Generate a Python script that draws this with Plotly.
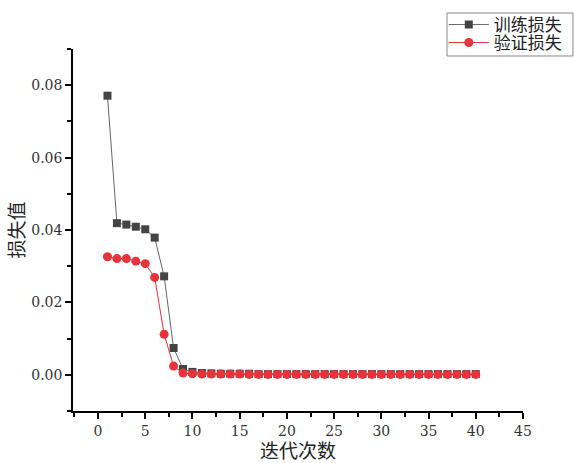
import plotly.graph_objects as go

epochs = list(range(1, 41))
train_loss = [0.0771, 0.0419, 0.0415, 0.0409, 0.0402, 0.0379, 0.0272, 0.0074, 0.0016, 0.0008,
              0.0005, 0.0004, 0.0003, 0.0003, 0.0003, 0.0003, 0.0002, 0.0002, 0.0002, 0.0002,
              0.0002, 0.0002, 0.0002, 0.0002, 0.0002, 0.0002, 0.0002, 0.0002, 0.0002, 0.0002,
              0.0002, 0.0002, 0.0002, 0.0002, 0.0002, 0.0002, 0.0002, 0.0002, 0.0002, 0.0002]
val_loss = [0.0326, 0.0321, 0.0321, 0.0314, 0.0307, 0.0269, 0.0112, 0.0024, 0.0005, 0.0003,
            0.0002, 0.0002, 0.0002, 0.0002, 0.0002, 0.0001, 0.0001, 0.0001, 0.0001, 0.0001,
            0.0001, 0.0001, 0.0001, 0.0001, 0.0001, 0.0001, 0.0001, 0.0001, 0.0001, 0.0001,
            0.0001, 0.0001, 0.0001, 0.0001, 0.0001, 0.0001, 0.0001, 0.0001, 0.0001, 0.0001]
names = ["训练损失", "验证损失"]

num_font = "DejaVu Serif"
cjk_font = "Noto Sans CJK SC"

fig = go.Figure()
fig.add_trace(go.Scatter(x=epochs, y=train_loss, name=names[0], mode="lines+markers",
                         line=dict(color="#666666", width=1),
                         marker=dict(symbol="square", size=8, color="#444444"),
                         legend="legend"))
fig.add_trace(go.Scatter(x=epochs, y=val_loss, name=names[1], mode="lines+markers",
                         line=dict(color="#e8333a", width=1),
                         marker=dict(symbol="circle", size=9, color="#e8333a"),
                         legend="legend2"))

axis_common = dict(showline=True, linecolor="black", linewidth=1.5, ticks="outside",
                   ticklen=6, tickwidth=1.5, tickcolor="black", showgrid=False, zeroline=False,
                   tickfont=dict(family=num_font, size=14, color="#333333"),
                   mirror=False)
fig.update_xaxes(range=[-2.65, 45], tick0=0, dtick=5,
                 minor=dict(ticks="outside", ticklen=4, tickwidth=1.5, tickcolor="black", dtick=2.5, tick0=0),
                 title=dict(text="迭代次数", font=dict(family=cjk_font, size=19, color="#222222"), standoff=11),
                 **axis_common)
fig.update_yaxes(range=[-0.01, 0.09], tick0=0, dtick=0.02, tickformat=".2f",
                 minor=dict(ticks="outside", ticklen=4, tickwidth=1.5, tickcolor="black", dtick=0.01, tick0=0),
                 title=dict(text="损失值", font=dict(family=cjk_font, size=19, color="#222222"), standoff=2),
                 **axis_common)

leg_common = dict(xanchor="left", yanchor="middle", borderwidth=0, bgcolor="rgba(0,0,0,0)",
                  font=dict(family=cjk_font, size=17, color="#222222"), itemwidth=40)

fig.update_layout(
    width=574, height=463,
    margin=dict(l=73, r=51, t=49, b=52, autoexpand=False),
    plot_bgcolor="white", paper_bgcolor="white",
    showlegend=True,
    legend=dict(x=0.824, y=1.0663, **leg_common),
    legend2=dict(x=0.824, y=1.0166, **leg_common),
    shapes=[dict(type="rect", xref="paper", yref="paper", x0=0.8311, x1=1.111, y0=0.9807, y1=1.0994,
                 line=dict(color="#888888", width=1), fillcolor="rgba(0,0,0,0)", layer="below")],
)
fig.write_html("out.html", config={"displayModeBar": False},
               post_script="document.body.style.margin='0';document.body.style.padding='0';")
